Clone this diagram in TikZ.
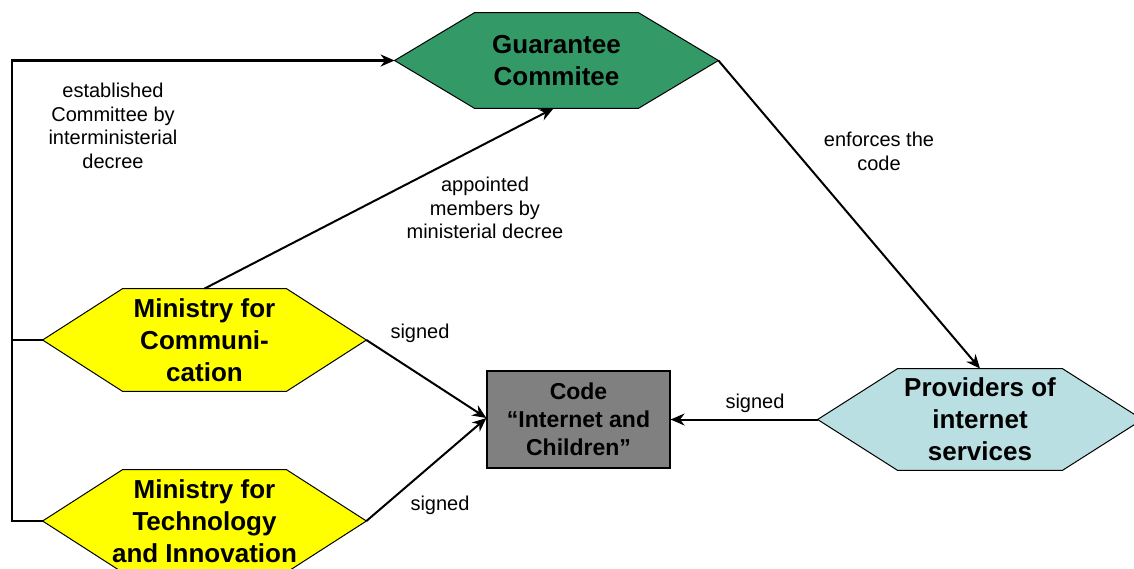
\documentclass[tikz,border=0pt]{standalone}
\usepackage{fontspec}
\setmainfont{Liberation Sans}
\usetikzlibrary{calc,arrows.meta,backgrounds}

\definecolor{hexgreen}{HTML}{339966}
\definecolor{hexyellow}{HTML}{FFFF00}
\definecolor{hexblue}{HTML}{B9DFE2}
\definecolor{boxgray}{HTML}{808080}

\tikzset{
  hexnode/.style={draw=none, inner sep=0pt, align=center,
    font=\bfseries\fontsize{13}{16}\selectfont},
  codebox/.style={draw=black, line width=0.6pt, fill=boxgray, inner sep=0pt,
    align=center, font=\bfseries\fontsize{11.5}{14}\selectfont},
  lbl/.style={inner sep=0pt, align=center, font=\fontsize{10}{11.8}\selectfont},
  link/.style={line width=1pt, -{Stealth[length=7pt,width=6pt]}},
  spine/.style={line width=1.2pt},
}

% hexagon outline fitted to a node's bounding rectangle
\newcommand\hexoutline[3]{%
  \filldraw[fill=#2, draw=black, line width=0.5pt]
    (#1.west) -- ($(#1.north west)+(#3,0)$) -- ($(#1.north east)+(-#3,0)$)
    -- (#1.east) -- ($(#1.south east)+(-#3,0)$) -- ($(#1.south west)+(#3,0)$)
    -- cycle;}

\begin{document}
\begin{tikzpicture}[x=0.5pt, y=-0.5pt]
  \useasboundingbox (0,0) rectangle (1134,568);

  % actors
  \node[hexnode, minimum width=161.5pt, minimum height=47.5pt] (gc) at (556.5,60.5)
    {Guarantee\\Commitee};
  \node[hexnode, minimum width=161.5pt, minimum height=51pt] (mc) at (204.5,340)
    {Ministry for\\Communi-\\cation};
  \node[hexnode, minimum width=161.5pt, minimum height=51pt] (mt) at (204.5,521)
    {Ministry for\\Technology\\and Innovation};
  \node[hexnode, minimum width=162pt, minimum height=50.5pt] (pis) at (980,419.5)
    {Providers of\\internet\\services};
  \node[codebox, minimum width=91.5pt, minimum height=48.5pt] (code) at (578.5,419.5)
    {Code\\``Internet and\\Children''};

  \begin{pgfonlayer}{background}
    \hexoutline{gc}{hexgreen}{80}
    \hexoutline{mc}{hexyellow}{80}
    \hexoutline{mt}{hexyellow}{80}
    \hexoutline{pis}{hexblue}{80}
  \end{pgfonlayer}

  % left spine joining both ministries to the committee
  \coordinate (spinefoot) at (12,521);
  \draw[spine] (mc.west) -- (mc.west -| spinefoot);
  \draw[spine, -{Stealth[length=7pt,width=6pt]}]
    (mt.west) -- (spinefoot) |- (gc.west);

  % relations
  \draw[link] (mc.north) -- ($(gc.south)+(-3,0)$);
  \draw[link] (gc.east) -- (pis.north);
  \draw[link] (mc.east) -- ($(code.west)+(0,-1.5)$);
  \draw[link] (mt.east) -- ($(code.west)+(0,-1.5)$);
  \draw[link] (pis.west) -- (code.east);

  % labels
  \node[lbl] (lest) at (113,126) {established\\Committee by\\interministerial\\decree};
  \node[lbl] (lapp) at (485,208) {appointed\\members by\\ministerial decree};
  \node[lbl] (lenf) at (879,151.5) {enforces the\\code};
  \node[lbl] (ls1) at (420,333) {signed};
  \node[lbl] (ls2) at (440,505) {signed};
  \node[lbl] (ls3) at (755,403) {signed};
\end{tikzpicture}
\end{document}
